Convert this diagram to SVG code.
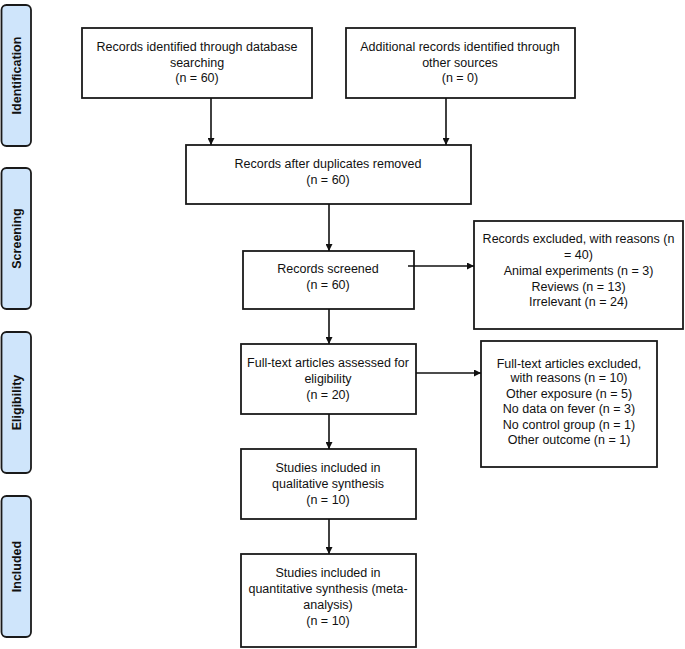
<svg xmlns="http://www.w3.org/2000/svg" width="685" height="649" viewBox="0 0 685 649">
<style>
.box{fill:#fff;stroke:#1a1a1a;stroke-width:1.8}
.tab{fill:#cfe5fb;stroke:#1a1a1a;stroke-width:1.8}
.t{font-family:"Liberation Sans",Arial,sans-serif;font-size:12.5px;fill:#111;text-anchor:middle}
.tl{font-family:"Liberation Sans",Arial,sans-serif;font-size:12.5px;font-weight:bold;fill:#111;text-anchor:middle}
.c{stroke:#111;stroke-width:1.6;fill:none;marker-end:url(#ah)}
</style>
<defs>
<marker id="ah" viewBox="0 0 10 10" refX="10" refY="5" markerWidth="7" markerHeight="7" markerUnits="userSpaceOnUse" orient="auto">
<path d="M0,0 L10,5 L0,10 z" fill="#111"/>
</marker>
</defs>
<rect width="685" height="649" fill="#fff"/>
<g id="tab-identification"><rect class="tab" x="1.5" y="5" width="29.5" height="141" rx="5"/><text class="tl" transform="translate(20.5,75.5) rotate(-90)">Identification</text></g>
<g id="tab-screening"><rect class="tab" x="1.5" y="168" width="29.5" height="141" rx="5"/><text class="tl" transform="translate(20.5,238.5) rotate(-90)">Screening</text></g>
<g id="tab-eligibility"><rect class="tab" x="1.5" y="332" width="29.5" height="141" rx="5"/><text class="tl" transform="translate(20.5,402.5) rotate(-90)">Eligibility</text></g>
<g id="tab-included"><rect class="tab" x="1.5" y="496" width="29.5" height="141" rx="5"/><text class="tl" transform="translate(20.5,566.5) rotate(-90)">Included</text></g>

<g id="n-database"><rect class="box" x="82" y="28" width="230" height="70"/>
<text class="t" x="197" y="51">Records identified through database</text>
<text class="t" x="197" y="66.5">searching</text>
<text class="t" x="197" y="82">(n = 60)</text></g>
<g id="n-other"><rect class="box" x="346" y="28" width="229" height="70"/>
<text class="t" x="460" y="51">Additional records identified through</text>
<text class="t" x="460" y="66.5">other sources</text>
<text class="t" x="460" y="82">(n = 0)</text></g>
<g id="n-dupes"><rect class="box" x="186" y="145" width="285" height="59"/>
<text class="t" x="328" y="167.5">Records after duplicates removed</text>
<text class="t" x="328" y="184">(n = 60)</text></g>
<g id="n-screened"><rect class="box" x="243" y="251" width="171" height="58"/>
<text class="t" x="328" y="272.5">Records screened</text>
<text class="t" x="328" y="289">(n = 60)</text></g>
<g id="n-excluded"><rect class="box" x="474" y="221" width="209" height="108"/>
<text class="t" x="578.5" y="243">Records excluded, with reasons (n</text>
<text class="t" x="578.5" y="259">= 40)</text>
<text class="t" x="578.5" y="275">Animal experiments (n = 3)</text>
<text class="t" x="578.5" y="290.5">Reviews (n = 13)</text>
<text class="t" x="578.5" y="306">Irrelevant (n = 24)</text></g>
<g id="n-fulltext"><rect class="box" x="241" y="344" width="175" height="70"/>
<text class="t" x="328" y="367">Full-text articles assessed for</text>
<text class="t" x="328" y="383">eligibility</text>
<text class="t" x="328" y="399">(n = 20)</text></g>
<g id="n-ftexcluded"><rect class="box" x="481" y="341" width="176" height="126"/>
<text class="t" x="569" y="368">Full-text articles excluded,</text>
<text class="t" x="569" y="382">with reasons (n = 10)</text>
<text class="t" x="569" y="397.5">Other exposure (n = 5)</text>
<text class="t" x="569" y="413">No data on fever (n = 3)</text>
<text class="t" x="569" y="428.5">No control group (n = 1)</text>
<text class="t" x="569" y="444">Other outcome (n = 1)</text></g>
<g id="n-qual"><rect class="box" x="241" y="449" width="175" height="70"/>
<text class="t" x="328" y="472">Studies included in</text>
<text class="t" x="328" y="487.5">qualitative synthesis</text>
<text class="t" x="328" y="504">(n = 10)</text></g>
<g id="n-quant"><rect class="box" x="241" y="554" width="175" height="93"/>
<text class="t" x="328" y="577">Studies included in</text>
<text class="t" x="328" y="593">quantitative synthesis (meta-</text>
<text class="t" x="328" y="609">analysis)</text>
<text class="t" x="328" y="625">(n = 10)</text></g>

<g id="connectors">
<line class="c" x1="211" y1="98" x2="211" y2="145"/>
<line class="c" x1="446" y1="98" x2="446" y2="145"/>
<line class="c" x1="329" y1="204" x2="329" y2="251"/>
<line class="c" x1="408" y1="266" x2="474" y2="266"/>
<line class="c" x1="329" y1="309" x2="329" y2="344"/>
<line class="c" x1="416" y1="373" x2="481" y2="373"/>
<line class="c" x1="329" y1="414" x2="329" y2="449"/>
<line class="c" x1="329" y1="519" x2="329" y2="554"/>
</g>
</svg>
